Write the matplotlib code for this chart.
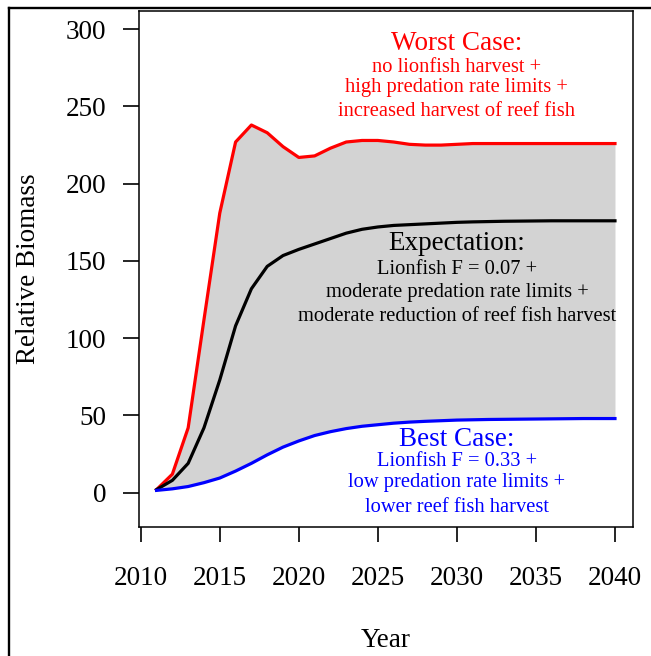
import matplotlib
matplotlib.use("Agg")
import matplotlib.pyplot as plt
from matplotlib.lines import Line2D
import numpy as np

plt.rcParams['font.family'] = ['Liberation Serif', 'DejaVu Serif']

years = list(range(2011, 2041))
worst = [2, 12, 42, 112, 181, 227, 238, 233, 224, 217, 218, 223, 227, 228, 228,
         227, 225.5, 225, 225, 225.5, 226, 226, 226, 226, 226, 226, 226, 226, 226, 226]
expect = [2, 8, 19, 42, 73, 108, 132, 146.5, 153.5, 157.5, 161, 164.5, 168, 170.5, 172,
          173, 173.5, 174, 174.5, 175, 175.3, 175.5, 175.7, 175.8, 175.9, 176, 176, 176, 176, 176]
best = [1.5, 2.5, 4, 6.5, 9.5, 14, 19, 24.5, 29.5, 33.5, 37, 39.5, 41.5, 43, 44,
        45, 45.7, 46.2, 46.6, 47, 47.2, 47.4, 47.5, 47.6, 47.7, 47.8, 47.9, 48, 48, 48]

xticks = [2010, 2015, 2020, 2025, 2030, 2035, 2040]
yticks = [0, 50, 100, 150, 200, 250, 300]

worst_text = ["Worst Case:", "no lionfish harvest +", "high predation rate limits +",
              "increased harvest of reef fish"]
expect_text = ["Expectation:", "Lionfish F = 0.07 +", "moderate predation rate limits +",
               "moderate reduction of reef fish harvest"]
best_text = ["Best Case:", "Lionfish F = 0.33 +", "low predation rate limits +",
             "lower reef fish harvest"]

W, H = 651, 656
fig = plt.figure(figsize=(W / 100, H / 100), dpi=100)
ax = fig.add_axes([139 / W, 1 - 527 / H, (633 - 139) / W, (527 - 11) / H])

ax.fill_between(years, best, worst, color='#d3d3d3', linewidth=0)
ax.plot(years, worst, color='#ff0000', lw=2.3, solid_joinstyle='round')
ax.plot(years, expect, color='black', lw=2.3, solid_joinstyle='round')
ax.plot(years, best, color='#0000ff', lw=2.3, solid_joinstyle='round')

ax.set_xlim(2009.89, 2041.14)
ax.set_ylim(-22.2, 311.8)
ax.set_xticks(xticks)
ax.set_yticks(yticks)
ax.tick_params(axis='x', direction='out', length=11, width=1.2, pad=17, labelsize=19.5)
ax.tick_params(axis='y', direction='out', length=11.5, width=1.2, pad=12, labelsize=19.5)
for s in ax.spines.values():
    s.set_linewidth(1.1)

ax.set_xlabel("Year", fontsize=19.5)
ax.xaxis.set_label_coords(0.5, -0.195)
ax.set_ylabel("Relative Biomass", fontsize=19.5)
ax.yaxis.set_label_coords(-0.198, 0.5)

def block(lines, ys, color):
    for i, (t, yv) in enumerate(zip(lines, ys)):
        ax.text(2030, yv, t, color=color, ha='center', va='baseline',
                fontsize=19.5 if i == 0 else 14.8)

block(worst_text, [286.6, 272.4, 259.4, 243.9], '#ff0000')
block(expect_text, [157.1, 141.6, 126.7, 111.2], 'black')
block(best_text, [30.2, 17.2, 3.7, -12.5], '#0000ff')

# outer frame (top and left edges)
fig.add_artist(Line2D([8.5 / W, 1], [1 - 8 / H, 1 - 8 / H], color='black', lw=1.7,
                      transform=fig.transFigure))
fig.add_artist(Line2D([8.5 / W, 8.5 / W], [0, 1 - 8 / H], color='black', lw=1.7,
                      transform=fig.transFigure))

fig.savefig("out.png", dpi=100)
